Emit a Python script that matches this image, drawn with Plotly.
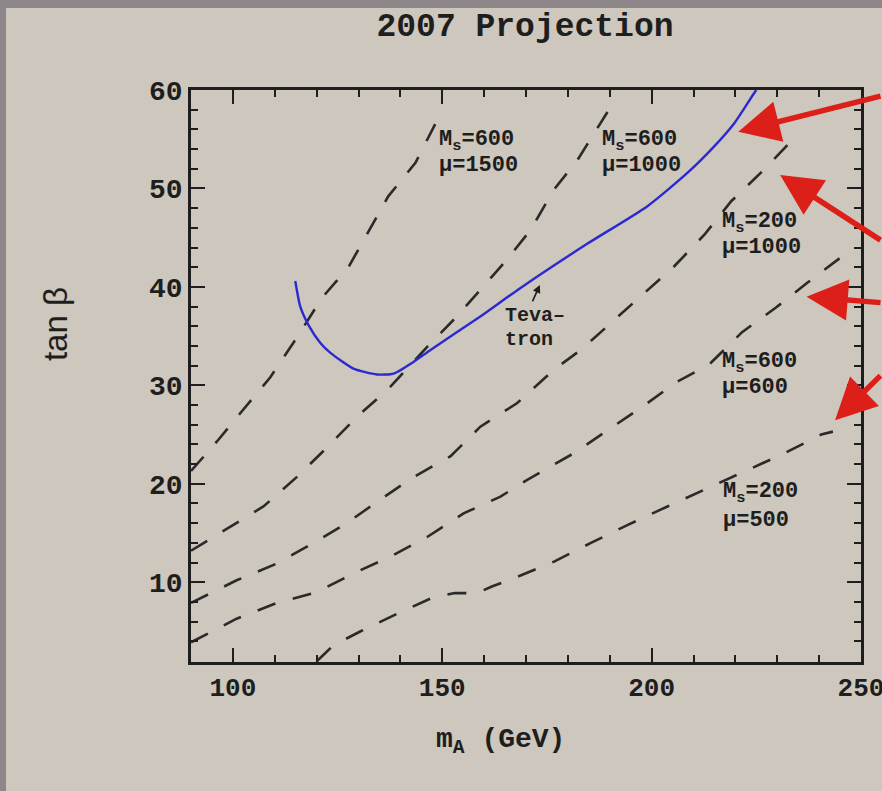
import plotly.graph_objects as go

# ---- contour data: tan(beta) reach vs m_A (GeV) ----
c1_x = [90.0, 96.2, 102.4, 108.9, 114.9, 121.3, 127.6, 132.3, 137.1, 143.6, 149.1]
c1_y = [21.3, 24.3, 27.5, 30.8, 34.6, 38.9, 42.0, 45.6, 49.2, 52.6, 57.2]

c2_x = [90.0, 99.3, 107.3, 115.3, 122.5, 129.6, 136.8, 146.4, 152.8, 159.1, 165.5, 171.1, 176.7, 182.3, 187.8, 189.5]
c2_y = [13.2, 15.6, 17.7, 20.7, 23.7, 26.8, 29.5, 33.9, 36.7, 39.7, 42.8, 45.8, 49.9, 52.9, 56.6, 57.8]

c3_x = [90.0, 100.9, 110.5, 119.3, 127.2, 135.2, 143.2, 152.0, 159.1, 167.9, 176.7, 183.1, 190.2, 198.2, 205.4, 212.6, 219.0, 226.1, 232.9, 234.9]
c3_y = [7.9, 10.2, 11.9, 14.0, 16.0, 18.4, 20.7, 22.8, 25.8, 28.2, 31.6, 33.6, 36.3, 39.4, 42.1, 45.3, 48.7, 51.6, 54.6, 55.5]

c4_x = [90.0, 100.9, 110.5, 120.1, 128.8, 137.6, 146.4, 155.1, 163.9, 170.3, 181.4, 189.8, 197.7, 205.8, 213.7, 221.6, 229.7, 237.1, 245.5, 247.7]
c4_y = [3.9, 6.3, 7.9, 9.0, 10.9, 12.6, 14.6, 17.0, 18.7, 20.4, 23.1, 25.5, 27.8, 30.3, 32.1, 35.4, 37.9, 40.4, 43.1, 43.8]

c5_x = [120.1, 124.0, 130.4, 139.2, 148.0, 153.0, 158.3, 162.0, 167.1, 176.7, 185.5, 194.2, 203.8, 212.6, 222.1, 231.7, 240.5, 243.3]
c5_y = [2.0, 3.6, 5.0, 6.8, 8.5, 8.9, 8.9, 9.6, 10.4, 12.1, 14.0, 15.8, 17.7, 19.4, 21.2, 23.1, 25.0, 25.3]

tev_x = [114.9, 116.1, 118.1, 120.9, 123.3, 128.8, 134.4, 138.4, 143.2, 147.2, 159.1, 168.7, 184.7, 199.0, 208.6, 215.0, 219.7, 224.5, 225.0]
tev_y = [40.6, 38.0, 36.1, 34.3, 33.3, 31.7, 31.1, 31.2, 32.4, 33.6, 37.0, 39.9, 44.4, 48.2, 51.6, 54.3, 56.6, 59.7, 60.0]

contours = [(c1_x, c1_y), (c2_x, c2_y), (c3_x, c3_y), (c4_x, c4_y), (c5_x, c5_y)]

# curve labels (two lines each)
label_ms = ["M<sub>s</sub>=600", "M<sub>s</sub>=600", "M<sub>s</sub>=200", "M<sub>s</sub>=600", "M<sub>s</sub>=200"]
label_mu = ["\u03bc=1500", "\u03bc=1000", "\u03bc=1000", "\u03bc=600", "\u03bc=500"]
label_pos = [(148.75, 54.85, 52.3), (187.7, 54.85, 52.3), (216.3, 46.5, 44.0),
             (216.3, 32.3, 29.8), (216.5, 19.05, 16.3)]

x_ticks = [100, 150, 200, 250]
y_ticks = [10, 20, 30, 40, 50, 60]

BG = "#cdc7bd"
INK = "#1e1e1e"
MONO = "Liberation Mono"

fig = go.Figure()

for cx, cy in contours:
    fig.add_trace(go.Scatter(x=cx, y=cy, mode="lines",
                             line=dict(color="#2a2a2a", width=2.6, dash="19px,18px"),
                             hoverinfo="skip", showlegend=False))

fig.add_trace(go.Scatter(x=tev_x, y=tev_y, mode="lines",
                         line=dict(color="#2a2ad0", width=2.4, shape="spline", smoothing=0.6),
                         hoverinfo="skip", showlegend=False))

annotations = []
for txt1, txt2, (lx, ly1, ly2) in zip(label_ms, label_mu, label_pos):
    for txt, ly in ((txt1, ly1), (txt2, ly2)):
        annotations.append(dict(x=lx, y=ly, xref="x", yref="y", text=txt, showarrow=False,
                                xanchor="left", yanchor="middle",
                                font=dict(family=MONO, size=22, color=INK, weight="bold")))

# Tevatron label with small pointer
annotations.append(dict(x=164.5, y=37.1, text="Teva\u2013", showarrow=False, xanchor="left",
                        yanchor="middle", font=dict(family=MONO, size=20, color=INK, weight="bold")))
annotations.append(dict(x=164.5, y=34.7, text="tron", showarrow=False, xanchor="left",
                        yanchor="middle", font=dict(family=MONO, size=20, color=INK, weight="bold")))
annotations.append(dict(x=173.3, y=40.2, ax=-8, ay=18, text="", showarrow=True,
                        arrowhead=2, arrowsize=1.0, arrowwidth=1.6, arrowcolor=INK))

# red pointer arrows coming in from the right
arrow_tips = [(220.7, 55.76), (230.7, 51.36), (237.0, 39.0), (243.8, 26.46)]
arrow_tails = [(162, -36), (120, 66), (95, 6), (65, -46)]
for (tx, ty), (ax, ay) in zip(arrow_tips, arrow_tails):
    annotations.append(dict(x=tx, y=ty, ax=ax, ay=ay, text="", showarrow=True,
                            arrowhead=2, arrowsize=1.5, arrowwidth=5.5, arrowcolor="#dd1f1a"))

# axis titles
annotations.append(dict(x=(500 - 191) / 670, y=(661.7 - 741) / 571.7, xref="paper", yref="paper",
                        text="m<sub>A</sub> (GeV)", showarrow=False, xanchor="center", yanchor="middle",
                        font=dict(family=MONO, size=28, color=INK, weight="bold")))
annotations.append(dict(x=(55 - 191) / 670, y=(661.7 - 324) / 571.7, xref="paper", yref="paper",
                        text="tan \u03b2", textangle=-90, showarrow=False, xanchor="center",
                        yanchor="middle", font=dict(family="Liberation Sans", size=33, color=INK)))

axis_common = dict(showline=True, linecolor=INK, linewidth=2.5, mirror="allticks",
                   ticks="inside", ticklen=14, tickwidth=2, tickcolor=INK,
                   showgrid=False, zeroline=False, automargin=False)

fig.update_layout(
    width=882, height=791,
    margin=dict(l=191, r=21, t=90, b=129, autoexpand=False),
    paper_bgcolor=BG, plot_bgcolor=BG,
    title=dict(text="2007 Projection", x=525 / 882, xanchor="center", y=1 - 24 / 791,
               yanchor="middle", font=dict(family=MONO, size=33, color=INK, weight="bold")),
    xaxis=dict(range=[90, 250], tickvals=x_ticks, ticklabeloverflow="allow",
               tickfont=dict(family=MONO, size=26, color=INK, weight="bold"),
               minor=dict(ticks="inside", ticklen=7, tickwidth=2, tickcolor=INK, dtick=10, showgrid=False),
               **axis_common),
    yaxis=dict(range=[1.9, 60], tickvals=y_ticks,
               tickfont=dict(family=MONO, size=28, color=INK, weight="bold"),
               minor=dict(ticks="inside", ticklen=7, tickwidth=2, tickcolor=INK, dtick=2, showgrid=False),
               **axis_common),
    annotations=annotations,
    shapes=[
        dict(type="rect", xref="paper", yref="paper", x0=-0.4, x1=(6 - 191) / 670, y0=-0.4, y1=1.4,
             fillcolor="#8d8789", line=dict(width=0), layer="above"),
        dict(type="rect", xref="paper", yref="paper", x0=-0.4, x1=1.4, y0=(661.7 - 8) / 571.7, y1=1.4,
             fillcolor="#8d8789", line=dict(width=0), layer="above"),
    ],
)

fig.write_html("out.html")
